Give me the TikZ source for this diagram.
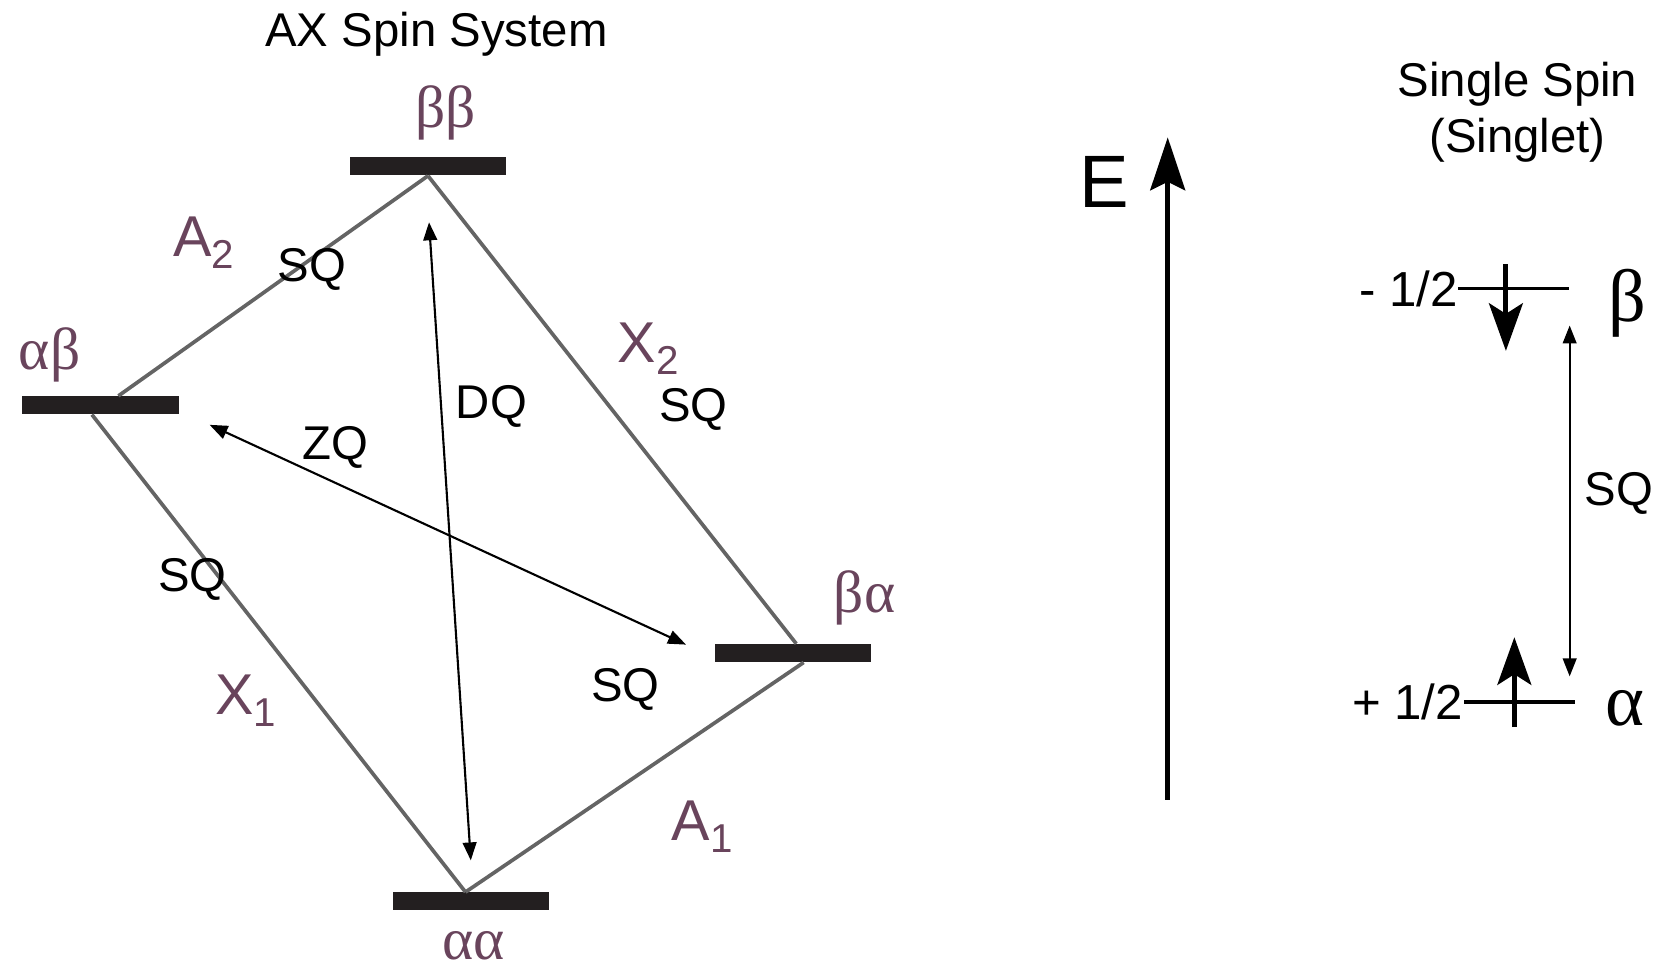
\documentclass[tikz,border=0pt]{standalone}
\usepackage{fontspec}
\setmainfont{Liberation Sans}
\newfontfamily\greekfont{Liberation Serif}
\usepackage{tikz}
\usetikzlibrary{positioning,calc,arrows.meta}

\definecolor{barcol}{RGB}{35,31,32}
\definecolor{rungcol}{RGB}{100,100,100}
\definecolor{tagcol}{RGB}{105,68,92}

\begin{document}
\begin{tikzpicture}[x=0.2mm, y=-0.2mm,
  level/.style={fill=barcol, inner sep=0pt, minimum width=29.6mm, minimum height=3.4mm},
  rung/.style={draw=rungcol, line width=0.7mm},
  trans/.style={line width=0.4mm, {Triangle[length=3.4mm,width=2.6mm]}-{Triangle[length=3.4mm,width=2.6mm]}},
  lbl/.style={inner sep=0pt, font=\fontsize{25.5}{30}\selectfont},
  tag/.style={inner sep=0pt, text=tagcol, font=\fontsize{31}{36}\selectfont},
  greek/.style={inner sep=0pt, text=tagcol, font=\greekfont\fontsize{32}{36}\selectfont},
  spinlevel/.style={fill=black, inner sep=0pt, minimum width=21mm, minimum height=0.7mm},
  spin/.style={line width=0.95mm, -{Stealth[length=9mm,width=6.4mm,inset=2mm]}}]
  \useasboundingbox (0,0) rectangle (1568,920);

  % AX spin system: energy levels
  \node[lbl] (title) at (413,32) {AX Spin System};
  \node[level] (bb) at (405,157.5) {};
  \node[level] (ab) at (95,383.5) {};
  \node[level] (ba) at (750.5,618) {};
  \node[level] (aa) at (445.5,853) {};
  \node[greek] (bbtag) at (422,107) {ββ};
  \node[greek] (abtag) at (47,336) {αβ};
  \node[greek] (batag) at (818,566) {βα};
  \node[greek] (aatag) at (448,895) {αα};

  % single quantum rungs
  \draw[rung] (bb.south) -- ($(ab.north)+(17,0)$);
  \draw[rung] (bb.south) -- ($(ba.north)+(3,0)$);
  \draw[rung] ($(ab.south)+(-8,0)$) -- ($(aa.north)+(-5,0)$);
  \draw[rung] ($(ba.south)+(10,0)$) -- ($(aa.north)+(-5,0)$);

  % double and zero quantum
  \draw[trans] ($(bb.south)+(1,44)$) -- ($(aa.north)+(0,-30)$);
  \draw[trans] ($(ab.east)+(29,18.5)$) -- ($(ba.west)+(-27,-8)$);

  \node[tag] (a2) at (193,230) {A\textsubscript{2}};
  \node[tag] (x2) at (614,330) {X\textsubscript{2}};
  \node[tag] (x1) at (233,663) {X\textsubscript{1}};
  \node[tag] (a1) at (665,782) {A\textsubscript{1}};
  \node[lbl] (sqa2) at (295,255) {SQ};
  \node[lbl] (sqx2) at (656,387) {SQ};
  \node[lbl] (sqx1) at (182,548) {SQ};
  \node[lbl] (sqa1) at (592,652) {SQ};
  \node[lbl] (dq) at (465,385) {DQ};
  \node[lbl] (zq) at (317,423) {ZQ};

  % energy axis
  \coordinate (e0) at (1105,757);
  \coordinate (e1) at (1105,130);
  \draw[line width=0.9mm, -{Stealth[length=10mm,width=6.6mm,inset=1.6mm]}] (e0) -- (e1);
  \node[inner sep=0pt, font=\fontsize{40}{44}\selectfont] (etag) at (1045,172) {E};

  % single spin
  \node[lbl, align=center] (single) at (1436,106) {Single Spin\\(Singlet)};
  \node[spinlevel] (lb) at (1432.5,273) {};
  \node[spinlevel] (la) at (1437.5,664) {};
  \node[lbl, anchor=east, font=\fontsize{26.5}{30}\selectfont] (mhalf) at (lb.west) {- 1/2};
  \node[lbl, anchor=east, font=\fontsize{26.5}{30}\selectfont] (phalf) at (la.west) {+ 1/2};
  \node[inner sep=0pt, font=\greekfont\fontsize{40}{44}\selectfont] (btag) at (1540,287) {β};
  \node[inner sep=0pt, font=\greekfont\fontsize{40}{44}\selectfont] (atag) at (1538,670) {α};
  \draw[spin] ($(lb.center)+(-7.5,-23)$) -- ($(lb.center)+(-7.5,59)$);
  \draw[spin] ($(la.center)+(-4.5,24)$) -- ($(la.center)+(-4.5,-61)$);
  \draw[trans, line width=0.35mm] ($(lb.east)+(0,35)$) -- ($(la.east)+(-5,-24)$);
  \node[lbl] (sqs) at (1532,467) {SQ};
\end{tikzpicture}
\end{document}
